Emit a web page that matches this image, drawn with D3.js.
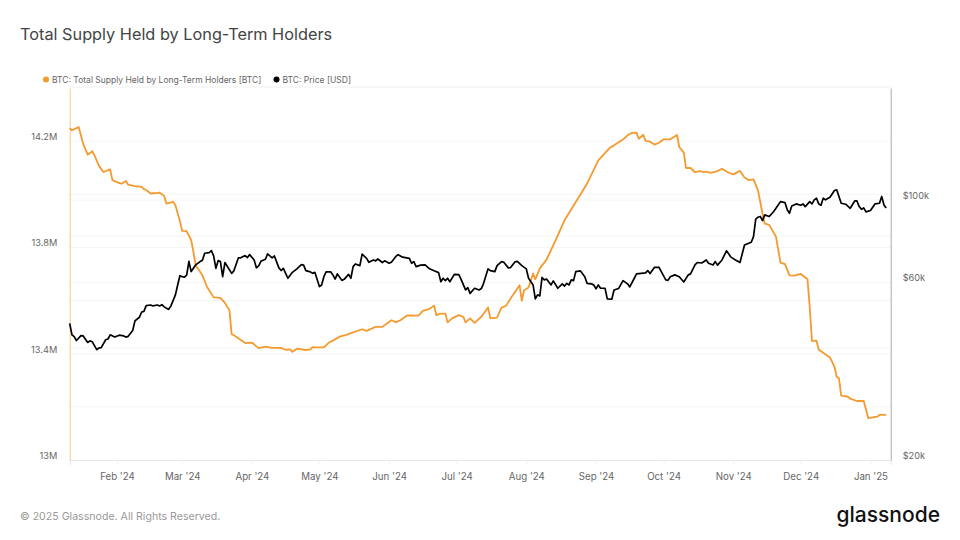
<!DOCTYPE html>
<html>
<head>
<meta charset="utf-8">
<title>Total Supply Held by Long-Term Holders</title>
<script src="https://cdnjs.cloudflare.com/ajax/libs/d3/7.9.0/d3.min.js"></script>
<style>
  html, body { margin: 0; padding: 0; background: #fff; }
  svg { display: block; }
  text { font-family: Inter, "Noto Sans", sans-serif; }
</style>
</head>
<body>
<svg id="chart" width="960" height="540"></svg>
<script>
// days are counted from 11 Jan 2024
const supplyDays = [0,1,3,4,6,7,8,10,11,13,15,18,19,21,23,25,26,29,32,33,34,36,39,40,42,43,46,47,49,50,52,54,55,56,59,61,64,67,69,71,72,74,78,81,84,87,90,94,96,98,99,101,105,107,108,110,113,115,118,120,123,126,130,132,136,139,143,145,147,150,155,157,160,162,163,165,167,168,170,173,175,176,178,180,183,186,187,190,192,194,196,200,201,202,204,206,207,209,212,216,220,225,230,235,240,242,243,246,248,250,252,253,255,256,258,260,262,264,267,270,271,273,274,276,278,280,282,283,285,288,290,293,295,298,300,302,304,306,307,308,309,311,314,316,318,320,322,325,328,329,330,332,333,336,338,340,341,342,343,346,347,350,353,355,359,360,363];
const supplyValues = [14.249,14.241,14.249,14.253,14.190,14.169,14.149,14.162,14.147,14.107,14.084,14.094,14.053,14.046,14.040,14.050,14.036,14.031,14.028,14.020,14.016,14.003,14.005,14.006,13.994,13.965,13.971,13.959,13.899,13.862,13.861,13.827,13.783,13.733,13.695,13.652,13.612,13.610,13.591,13.564,13.474,13.464,13.440,13.442,13.421,13.427,13.422,13.422,13.415,13.416,13.407,13.419,13.414,13.416,13.425,13.424,13.424,13.440,13.454,13.464,13.471,13.480,13.492,13.486,13.501,13.501,13.526,13.519,13.526,13.544,13.543,13.561,13.569,13.581,13.545,13.551,13.551,13.518,13.533,13.545,13.539,13.518,13.533,13.516,13.539,13.574,13.533,13.536,13.574,13.580,13.608,13.658,13.599,13.639,13.649,13.702,13.680,13.721,13.754,13.827,13.902,13.971,14.040,14.128,14.174,14.184,14.190,14.206,14.222,14.231,14.232,14.209,14.224,14.201,14.198,14.187,14.194,14.207,14.207,14.223,14.178,14.157,14.099,14.099,14.083,14.087,14.083,14.085,14.081,14.087,14.096,14.081,14.075,14.088,14.063,14.053,14.056,14.015,13.971,13.927,13.890,13.885,13.840,13.743,13.737,13.695,13.694,13.700,13.680,13.576,13.448,13.449,13.416,13.397,13.386,13.351,13.313,13.307,13.242,13.238,13.231,13.222,13.222,13.158,13.163,13.170,13.170];

const priceDays = [0,1,2,3,5,6,8,9,10,12,13,14,16,17,18,20,22,24,25,26,28,29,31,32,33,34,36,37,39,40,41,42,44,45,47,48,49,50,51,52,53,54,56,58,59,60,62,63,64,65,66,67,68,69,72,73,75,76,78,79,80,82,83,84,85,87,88,90,91,93,94,95,96,97,99,101,103,104,105,107,108,109,111,112,113,114,116,117,118,119,121,122,124,125,126,127,129,130,132,133,135,136,137,139,140,142,143,145,146,148,151,152,153,154,156,158,160,162,164,165,166,167,168,169,171,173,174,176,177,178,180,182,183,184,186,187,189,190,192,193,195,196,198,199,201,203,204,206,207,208,209,210,211,212,214,215,217,219,220,221,222,223,224,225,227,229,230,232,233,234,235,236,238,239,241,242,244,246,248,249,251,252,253,256,257,258,260,262,263,265,266,267,269,271,273,275,276,278,279,281,283,284,286,287,288,290,292,294,296,298,300,303,304,305,306,307,308,309,311,313,316,318,319,320,321,323,325,326,327,329,330,331,332,333,334,335,336,338,340,341,343,345,347,349,350,351,352,353,354,356,358,360,361,362,363];
const priceValues = [46600,43400,42900,41900,43200,43100,41400,41800,41600,39600,40000,40100,42100,42300,43400,42800,43300,43100,42800,43000,44600,47300,48400,50000,50200,52000,52200,51900,52200,51900,52300,51600,50800,51900,55600,59100,62600,62200,62000,62800,68400,64200,66900,68300,68900,71900,72200,73100,70700,65500,68700,68300,62200,67900,63500,64500,69900,69900,70900,70000,71300,69000,65700,66500,68400,69300,71600,69900,70700,65700,64600,65500,63500,61600,63900,65300,67000,66800,64600,64100,63500,63900,58500,59100,62200,64100,64100,62900,61300,63300,60800,61200,63100,61600,66200,67300,66600,71500,69700,68000,69000,68600,69400,67900,68600,67600,68000,70500,71300,70200,69700,67600,68300,66200,66800,66900,65300,64500,63800,60300,61600,60700,61600,60300,63100,63000,61200,57300,58100,56100,57900,57300,57800,59700,65300,64600,64200,66600,68300,68000,65700,65800,68200,68400,66600,65300,61600,59100,54200,55600,55200,61900,61000,61300,59100,60600,57900,59500,58700,59700,59100,61000,60700,64200,64500,62200,59700,59500,59100,57700,59100,57900,57900,54200,54100,57300,57800,60700,59500,58400,61600,63300,63400,63700,64600,63400,65900,65900,64200,61000,60800,62200,62900,62200,60200,62900,63300,66900,67900,67700,69000,67600,66900,68300,66800,69000,73000,70200,69000,67900,75700,77000,79700,88800,89900,90300,88000,91200,90300,93100,99000,98400,94100,92100,96400,97600,96800,97600,96000,99000,97600,100100,101100,97600,96800,101100,100100,101700,106000,106500,98000,97400,95000,99400,99400,96000,94400,95200,92900,93700,97600,98000,102200,97000,95200];

const supplyTicks = [13, 13.2, 13.4, 13.6, 13.8, 14, 14.2];
const supplyLabels = ["13M", "", "13.4M", "", "13.8M", "", "14.2M"];
const priceTicks = [20000, 40000, 60000, 80000, 100000];
const priceLabels = ["$20k", "", "$60k", "", "$100k"];

const startDate = new Date(Date.UTC(2024, 0, 11));
const endDate = new Date(Date.UTC(2025, 0, 10));
const dayToDate = (d) => d3.utcDay.offset(startDate, d);

const svg = d3.select("#chart");
const plotLeft = 69.7, plotRight = 890.7, plotTop = 88, plotBottom = 460;

const x = d3.scaleUtc().domain([startDate, endDate]).range([plotLeft, plotRight]);
const ySupply = d3.scaleLinear().domain([13, 14.4]).range([plotBottom, plotTop]);
const yPrice = d3.scaleLog().domain([20000, 200000]).range([plotBottom, plotTop]);

// grid, both axes draw their own
svg.append("g").selectAll("line")
  .data(supplyTicks.slice(1))
  .join("line")
  .attr("x1", plotLeft).attr("x2", plotRight)
  .attr("y1", d => ySupply(d)).attr("y2", d => ySupply(d))
  .attr("stroke", "#f5f5f5");

svg.append("g").selectAll("line")
  .data(priceTicks.slice(1))
  .join("line")
  .attr("x1", plotLeft).attr("x2", plotRight)
  .attr("y1", d => yPrice(d)).attr("y2", d => yPrice(d))
  .attr("stroke", "#f5f5f5");

svg.append("line")
  .attr("x1", plotLeft).attr("x2", plotRight)
  .attr("y1", plotTop - 1).attr("y2", plotTop - 1)
  .attr("stroke", "#f0f0f0");

// x axis
const xAxis = svg.append("g")
  .attr("transform", `translate(0,${plotBottom})`)
  .call(d3.axisBottom(x)
    .ticks(d3.utcMonth.every(1))
    .tickFormat(d3.utcFormat("%b '%y"))
    .tickSize(5)
    .tickPadding(8));
xAxis.select(".domain").attr("stroke", "#e6e6e6");
xAxis.selectAll(".tick line").attr("stroke", "#f0f0f0");
xAxis.selectAll("text").attr("fill", "#666").style("font-size", "9.7px").style("font-family", "Inter");

// left axis
const leftAxis = svg.append("g")
  .attr("transform", `translate(${plotLeft},0)`)
  .call(d3.axisLeft(ySupply)
    .tickValues(supplyTicks)
    .tickFormat((d, i) => supplyLabels[i])
    .tickSize(0)
    .tickPadding(12.5));
leftAxis.select(".domain").attr("stroke", "#f7931a").attr("stroke-opacity", 0.5);
leftAxis.selectAll("text").attr("fill", "#666").attr("dy", "-1.6px").style("font-size", "9.2px").style("font-family", "Inter");

// right axis
const rightAxis = svg.append("g")
  .attr("transform", `translate(${plotRight},0)`)
  .call(d3.axisRight(yPrice)
    .tickValues(priceTicks)
    .tickFormat((d, i) => priceLabels[i])
    .tickSize(0)
    .tickPadding(12));
rightAxis.select(".domain").attr("stroke", "#aaaaaa");
rightAxis.selectAll("text").attr("fill", "#666").attr("dy", "-1.6px").style("font-size", "9.2px").style("font-family", "Inter");

const supplyLine = d3.line()
  .x((d, i) => x(dayToDate(d)))
  .y((d, i) => ySupply(supplyValues[i]));

const priceLine = d3.line()
  .x((d, i) => x(dayToDate(d)))
  .y((d, i) => yPrice(priceValues[i]));

svg.append("path")
  .attr("d", supplyLine(supplyDays))
  .attr("fill", "none")
  .attr("stroke", "#f59a2f")
  .attr("stroke-width", 1.8)
  .attr("stroke-linejoin", "round");

svg.append("path")
  .attr("d", priceLine(priceDays))
  .attr("fill", "none")
  .attr("stroke", "#000")
  .attr("stroke-width", 1.7)
  .attr("stroke-linejoin", "round");

// title, legend, footer
svg.append("text")
  .attr("x", 20).attr("y", 39.5)
  .attr("fill", "#444")
  .style("font-size", "16.3px")
  .style("font-weight", 400)
  .text("Total Supply Held by Long-Term Holders");

const legend = svg.append("g").attr("transform", "translate(0,79.5)");
legend.append("circle").attr("cx", 46).attr("cy", 0).attr("r", 3).attr("fill", "#f59a2f");
legend.append("text").attr("x", 52).attr("y", 3)
  .attr("fill", "#666").style("font-size", "8.5px")
  .text("BTC: Total Supply Held by Long-Term Holders [BTC]");
legend.append("circle").attr("cx", 276.5).attr("cy", 0).attr("r", 3).attr("fill", "#000");
legend.append("text").attr("x", 282.5).attr("y", 3)
  .attr("fill", "#666").style("font-size", "8.5px")
  .text("BTC: Price [USD]");

svg.append("text")
  .attr("x", 20).attr("y", 520)
  .attr("fill", "#999")
  .style("font-size", "10.6px")
  .text("© 2025 Glassnode. All Rights Reserved.");

svg.append("text")
  .attr("x", 940).attr("y", 522)
  .attr("text-anchor", "end")
  .attr("fill", "#111")
  .style("font-size", "21px")
  .style("font-weight", 500)
  .text("glassnode");
</script>
</body>
</html>
